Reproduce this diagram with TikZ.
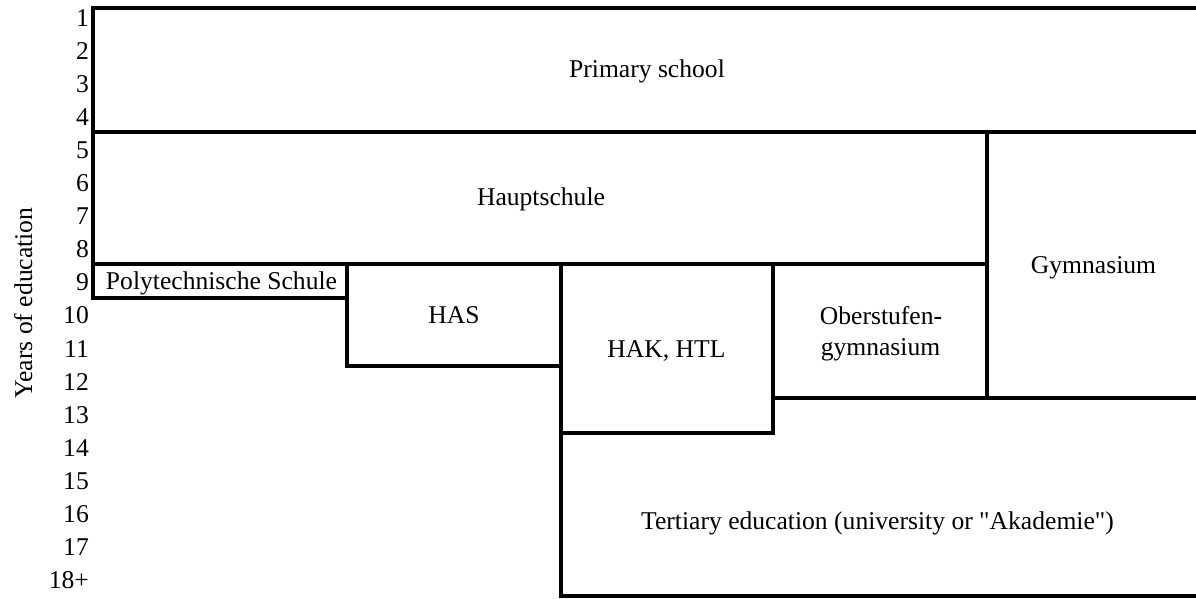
\documentclass[tikz,border=0pt]{standalone}
\usepackage{fontspec}
\setmainfont{Liberation Serif}
\newfontfamily\plainfont{Liberation Serif}
\begin{document}
\begin{tikzpicture}[x=1pt,y=-1pt,
  cell/.style={draw=black, line width=4.5pt, inner sep=0pt, outer sep=0pt},
  area/.style={inner sep=0pt, outer sep=0pt},
  border/.style={draw=black, line width=4.5pt},
  txt/.style={anchor=base, inner sep=0pt, font=\plainfont\fontsize{25.6}{31}\selectfont},
  mtxt/.style={txt, align=center},
  yearnum/.style={anchor=base east, inner sep=0pt, font=\plainfont\fontsize{25.6}{30}\selectfont},
  axislabel/.style={rotate=90, anchor=base, inner sep=0pt, font=\plainfont\fontsize{25.6}{30}\selectfont}]
\useasboundingbox (0,0) rectangle (1196,598);
\clip (0,0) rectangle (1196,598);
% boxes
\node[cell, minimum width=1107pt, minimum height=124pt] (primary) at (646.5,70) {};
\node[cell, minimum width=894pt, minimum height=132pt] (haupt) at (540,198) {};
\node[cell, minimum width=213pt, minimum height=266pt] (gym) at (1093.5,265) {};
\node[cell, minimum width=254pt, minimum height=34pt] (poly) at (220,281) {};
\node[cell, minimum width=214pt, minimum height=102pt] (has) at (454,315) {};
\node[cell, minimum width=212pt, minimum height=169pt] (hak) at (667,348.5) {};
\node[cell, minimum width=214pt, minimum height=134pt] (ober) at (880,331) {};
\node[area, minimum width=639pt, minimum height=163pt] (tert) at (880.5,514.5) {};
\draw[border] (tert.north west) |- (tert.south east);
% labels
\node[txt] (tprimary) at (647,77) {Primary school};
\node[txt] (thaupt) at (541,205) {Hauptschule};
\node[txt] (tgym) at (1093.5,273.5) {Gymnasium};
\node[txt] (tpoly) at (221.5,289.5) {Polytechnische Schule};
\node[txt] (thas) at (454,323) {HAS};
\node[txt] (thak) at (666.5,357) {HAK, HTL};
\node[txt] (tober1) at (881,324) {Oberstufen-};
\node[txt] (tober2) at (880.5,355) {gymnasium};
\node[txt] (ttert) at (877.5,529.5) {Tertiary education (university or "Akademie")};
% axis
\foreach \n [count=\i from 0] in {1,2,3,4,5,6,7,8,9,10,11,12,13,14,15,16,17,18+}
  \node[yearnum] (y\i) at (89,{26+\i*33.1}) {\n};
\node[axislabel] (ylabel) at (32,303) {Years of education};
\end{tikzpicture}
\end{document}
